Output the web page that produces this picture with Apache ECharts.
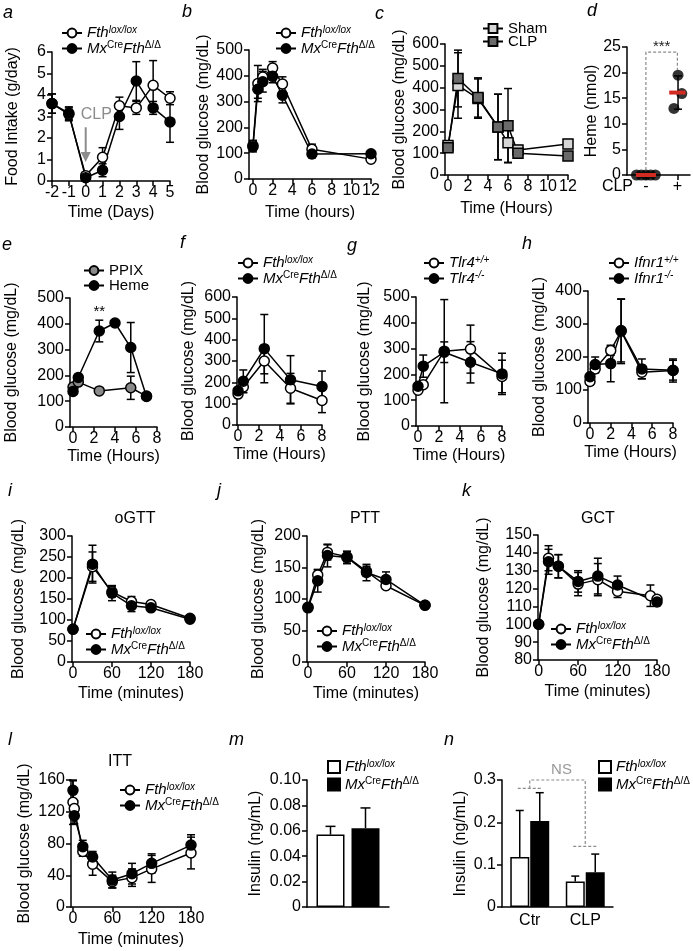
<!DOCTYPE html>
<html>
<head>
<meta charset="utf-8">
<script src="https://cdn.jsdelivr.net/npm/echarts@6.0.0/dist/echarts.min.js"></script>
<style>html,body{margin:0;padding:0;background:#fff;}#chart{width:693px;height:951px;}</style>
</head>
<body>
<div id="chart"></div>
<script>
const FONT = '"Liberation Sans", Arial, Helvetica, sans-serif';
const FS = 16;

// ---------- a : food intake ----------
const aDays = [-2,-1,0,1,2,3,4,5];
const aLox = [3.6,3.1,0.25,1.1,3.5,3.4,4.45,3.85];
const aLoxErr = [0.45,0.3,0.15,0.45,0.4,0.3,1.15,0.3];
const aMx = [3.6,3.15,0.15,0.5,3.0,4.65,3.4,2.75];
const aMxErr = [0.45,0.3,0.15,0.3,0.6,0.9,0.3,0.95];
const aXTicks = [-2,-1,0,1,2,3,4,5];
const aArrow = [[0,2.5],[0,0.88]];
const aArrowText = [0.63,3.07];

// ---------- b ----------
const bHours = [0,0.5,1,2,3,6,12];
const bLox = [130,370,395,430,368,115,77];
const bLoxErr = [20,70,30,25,28,20,8];
const bMx = [125,348,377,398,325,97,98];
const bMxErr = [20,35,40,25,30,15,8];
const bXTicks = [0,2,4,6,8,10,12];

// ---------- c ----------
const cHours = [0,1,3,5,6,7,12];
const cSham = [135,410,350,220,148,115,142];
const cShamErr = [20,150,90,150,90,20,20];
const cClp = [125,442,355,220,226,100,87];
const cClpErr = [15,130,90,150,170,15,15];
const cXTicks = [0,2,4,6,8,10,12];

// ---------- d ----------
const dGroupPos = [0,1];
const dGroupLabels = ['-','+'];
const dAxisLabel = 'CLP';
const dMinusX = [-0.3,-0.15,0,0.15,0.3];
const dMinusY = [0,0,0,0,0];
const dPlusX = [1.02,1.14,0.89];
const dPlusY = [19.5,15.9,13.0];
const dMean = [0,16.1];
const dMeanHalf = [0.32,0.26];
const dSdX = [1.02], dSdY = [16.1], dSdErr = [3.25];
const dBracket = [[0,1],[0,24],[1,24],[1,20.5]];
const dStars = [0.5,24];

// ---------- e ----------
const eHemeT = [0,0.5,2.5,4,5.5,7];
const eHeme = [138,192,372,403,308,118];
const eHemeErr = [12,12,42,5,97,10];
const ePpixT = [0,0.5,2.5,5.5,7];
const ePpix = [155,174,140,152,120];
const ePpixErr = [10,10,8,45,10];
const eStars = [2.5,418];
const hourTicks = [0,2,4,6,8];

// ---------- f ----------
const fT = [0,0.5,2.5,5,8];
const fLox = [145,178,300,172,115];
const fLoxErr = [15,26,60,70,57];
const fMx = [160,205,358,212,180];
const fMxErr = [15,53,160,113,73];

// ---------- g ----------
const gT = [0,0.5,2.5,5,8];
const gWt = [139,160,290,298,192];
const gWtErr = [10,10,200,93,63];
const gKo = [154,232,286,247,202];
const gKoErr = [10,43,40,80,80];

// ---------- h ----------
const hT = [0,0.5,2,3,5,8];
const hWt = [126,164,220,278,154,159];
const hWtErr = [10,12,15,98,20,35];
const hKo = [140,177,180,280,164,160];
const hKoErr = [10,23,55,95,30,30];

// ---------- i oGTT ----------
const minTicks = [0,60,120,180];
const iT = [0,30,60,90,120,180];
const iLox = [78,227,167,144,137,104];
const iLoxErr = [3,35,12,12,5,4];
const iMx = [78,233,164,134,129,102];
const iMxErr = [3,45,18,14,5,4];

// ---------- j PTT ----------
const jT = [0,15,30,60,90,120,180];
const jLox = [87,138,174,167,144,121,90];
const jLoxErr = [4,8,12,8,8,5,3];
const jMx = [86,129,169,166,142,131,90];
const jMxErr = [4,18,18,10,13,12,3];

// ---------- k GCT ----------
const kLoxT = [0,15,30,60,90,120,170,180];
const kLox = [100,137,132.5,122.5,125,118.5,116,114];
const kLoxErr = [0,7,6.5,6.5,9,3.5,6,2];
const kMxT = [0,15,30,60,90,120,180];
const kMx = [100,135,132.5,124,127,122,112.5];
const kMxErr = [0,7,6.5,6,10,5,2];

// ---------- l ITT ----------
const lT = [0,2,15,30,60,90,120,180];
const lLox = [132,124,70,54,32,37,48,68];
const lLoxErr = [28,10,6,14,8,11,17,20];
const lMx = [147,115,76,63,34,42,55,78];
const lMxErr = [12,10,8,7,10,13,12,13];

// ---------- m insulin ----------
const mCats = [''];
const mLox = [0.057];
const mLoxErr = [0.0065];
const mMx = [0.062];
const mMxErr = [0.016];

// ---------- n insulin CLP ----------
const nCats = ['Ctr','CLP'];
const nLox = [0.118,0.06];
const nLoxErr = [0.11,0.013];
const nMx = [0.203,0.082];
const nMxErr = [0.067,0.043];
const nBracket = [[0,0.28],[0,0.3],[1,0.3],[1,0.143]];

// ---------- text ----------
const LOX = '{i|Fth}{si|lox/lox}';
const MX = '{i|Mx}{s|Cre}{i|Fth}{s|Δ/Δ}';
const LEG = {
  a_lox: LOX, a_mx: MX, b_lox: LOX, b_mx: MX,
  c_sham: '{n|Sham}', c_clp: '{n|CLP}',
  e_ppix: '{n|PPIX}', e_heme: '{n|Heme}',
  f_lox: LOX, f_mx: MX,
  g_wt: '{i|Tlr4}{si|+/+}', g_ko: '{i|Tlr4}{si|-/-}',
  h_wt: '{i|Ifnr1}{si|+/+}', h_ko: '{i|Ifnr1}{si|-/-}',
  i_lox: LOX, i_mx: MX, j_lox: LOX, j_mx: MX, k_lox: LOX, k_mx: MX,
  l_lox: LOX, l_mx: MX, m_lox: LOX, m_mx: MX, n_lox: LOX, n_mx: MX
};
const panelLetters = [['a',3,13],['b',182,12],['c',375,14],['d',587,11],
  ['e',2,245],['f',180,243],['g',347,246],['h',522,244],
  ['i',8,491],['j',217,491],['k',462,491],['l',8,740],['m',229,740],['n',444,740]];
const panelTitles = [['oGTT',135,519],['PTT',365,519],['GCT',598,519],['ITT',120,762]];

// ================= builders =================
const RICH = {
  i: {fontStyle:'italic', fontSize:15, lineHeight:16, fontFamily:FONT, color:'#000'},
  n: {fontSize:15, lineHeight:16, fontFamily:FONT, color:'#000'},
  s: {fontSize:10, lineHeight:10, verticalAlign:'top', fontFamily:FONT, color:'#000'},
  si: {fontSize:10, lineHeight:10, verticalAlign:'top', fontStyle:'italic', fontFamily:FONT, color:'#000'}
};
const grids=[], xAxes=[], yAxes=[], series=[], legends=[], graphics=[];

function axisCommon(){
  return {
    axisLine:{show:true, onZero:false, lineStyle:{color:'#000', width:1.5}},
    axisTick:{show:true, inside:false, length:5, lineStyle:{color:'#000', width:1.5}},
    axisLabel:{show:true, color:'#000', fontSize:FS, fontFamily:FONT, hideOverlap:false, showMinLabel:true, showMaxLabel:true},
    splitLine:{show:false},
    nameLocation:'middle',
    nameTextStyle:{color:'#000', fontSize:FS, fontFamily:FONT}
  };
}
function addPanel(p){
  const gi = grids.length;
  grids.push({left:p.box[0], top:p.box[1], width:p.box[2], height:p.box[3], containLabel:false});
  const xa = axisCommon();
  xa.gridIndex = gi;
  if (p.xCats){
    xa.type='category'; xa.data=p.xCats; xa.boundaryGap=true;
    xa.axisTick.show=false; xa.axisLabel.margin=6; xa.axisLabel.interval=0;
  } else {
    xa.type='value'; xa.min=p.xMin; xa.max=p.xMax;
    xa.axisTick.customValues=p.xTicks; xa.axisLabel.customValues=p.xTicks;
    xa.axisLabel.margin=4;
    if (p.xFmt) xa.axisLabel.formatter=p.xFmt;
  }
  if (p.xName){ xa.name=p.xName; xa.nameGap=p.xGap; }
  const ya = axisCommon();
  ya.gridIndex=gi; ya.type='value'; ya.min=p.yMin; ya.max=p.yMax; ya.interval=p.yStep;
  ya.axisLabel.margin=6;
  if (p.yFmt) ya.axisLabel.formatter=p.yFmt;
  ya.name=p.yName; ya.nameGap=p.yGap; ya.nameRotate=90;
  xAxes.push(xa); yAxes.push(ya);
  return gi;
}
function pairs(xs, ys){ return xs.map((x,i)=>[x, ys[i]]); }
function triples(xs, ys, es){ return xs.map((x,i)=>[x, ys[i], es[i]]); }
function txt(t, x, y, font, fill, align, valign){
  return {type:'text', x:x, y:y, style:{text:t, font:font, fill:fill||'#000',
    align:align||'center', verticalAlign:valign||'middle', textAlign:align||'center', textVerticalAlign:valign||'middle'}};
}
function errRender(cap, opt){
  opt = opt || {};
  return function(params, api){
    const x=api.value(0), y=api.value(1), e=api.value(2);
    if (!e) return null;
    const c=api.coord([x,y]), up=api.coord([x,y+e]), dn=api.coord([x,y-e]);
    const X=c[0]+(opt.off||0);
    const st={stroke:'#000', lineWidth:1.5};
    const ch=[
      {type:'line', shape:{x1:X, y1:opt.upOnly?c[1]:dn[1], x2:X, y2:up[1]}, style:st},
      {type:'line', shape:{x1:X-cap, y1:up[1], x2:X+cap, y2:up[1]}, style:st}
    ];
    if (!opt.upOnly) ch.push({type:'line', shape:{x1:X-cap, y1:dn[1], x2:X+cap, y2:dn[1]}, style:st});
    return {type:'group', children:ch};
  };
}
const OPEN={color:'#fff', borderColor:'#000', borderWidth:1.5};
const FILLED={color:'#000', borderColor:'#000', borderWidth:1.5};
function addLine(gi, name, xs, ys, es, itemStyle, sym){
  series.push({type:'custom', name:name+'_err', xAxisIndex:gi, yAxisIndex:gi, data:triples(xs,ys,es),
    renderItem:errRender(4), z:2, silent:true, animation:false});
  series.push({type:'line', name:name, xAxisIndex:gi, yAxisIndex:gi, data:pairs(xs,ys),
    symbol:sym||'circle', symbolSize:10, itemStyle:itemStyle, lineStyle:{color:'#000', width:1.5},
    z:3, silent:true, animation:false, emphasis:{disabled:true}});
}
function addLegend(names, left, top, opt){
  opt = opt || {};
  const l = {data:names, left:left, top:top, orient:'vertical', padding:0,
    itemGap:opt.gap!=null?opt.gap:0, itemWidth:opt.iw||20, itemHeight:opt.ih||11,
    selectedMode:false, formatter:(n)=>LEG[n],
    textStyle:{color:'#000', fontFamily:FONT, fontSize:15, rich:RICH}};
  if (opt.icon) l.icon = opt.icon;
  legends.push(l);
}
function addAnnot(gi, render){
  series.push({type:'custom', xAxisIndex:gi, yAxisIndex:gi, data:[[0,0]], renderItem:render, z:6, silent:true, animation:false});
}

// ================= panels =================
const TB = 'Blood glucose (mg/dL)';
// a
const gA = addPanel({box:[52,52,118,129], xMin:-2, xMax:5, xTicks:aXTicks, yMin:0, yMax:6, yStep:1,
  xName:'Time (Days)', xGap:24, yName:'Food Intake (g/day)', yGap:31});
addLine(gA,'a_lox',aDays,aLox,aLoxErr,OPEN);
addLine(gA,'a_mx',aDays,aMx,aMxErr,FILLED);
addLegend(['a_lox','a_mx'],61,25);
addAnnot(gA,(p,api)=>{
  const s=api.coord(aArrow[0]), t=api.coord(aArrow[1]), lab=api.coord(aArrowText);
  return {type:'group', children:[
    {type:'line', shape:{x1:s[0],y1:s[1],x2:t[0],y2:t[1]-8}, style:{stroke:'#8c8c8c', lineWidth:2}},
    {type:'polygon', shape:{points:[[t[0]-5,t[1]-10],[t[0]+5,t[1]-10],[t[0],t[1]]]}, style:{fill:'#8c8c8c'}},
    txt('CLP', lab[0], lab[1], '16px '+FONT, '#8c8c8c')
  ]};
});
// b
const gB = addPanel({box:[249,50,122,129], xMin:-0.4, xMax:12, xTicks:bXTicks, yMin:0, yMax:500, yStep:100,
  xName:'Time (hours)', xGap:26, yName:TB, yGap:37});
addLine(gB,'b_lox',bHours,bLox,bLoxErr,OPEN);
addLine(gB,'b_mx',bHours,bMx,bMxErr,FILLED);
addLegend(['b_lox','b_mx'],275,25);
// c
const gC = addPanel({box:[445,44,123,131], xMin:-0.3, xMax:12, xTicks:cXTicks, yMin:0, yMax:600, yStep:100,
  xName:'Time (Hours)', xGap:26, yName:TB, yGap:37});
addLine(gC,'c_sham',cHours,cSham,cShamErr,{color:'#d6d6d6', borderColor:'#000', borderWidth:1.5},'rect');
addLine(gC,'c_clp',cHours,cClp,cClpErr,{color:'#6a6a6a', borderColor:'#000', borderWidth:1.5},'rect');
addLegend(['c_sham','c_clp'],482,21,{gap:-2});
// d
const gD = addPanel({box:[627,47,63,128], xMin:-0.6, xMax:1.4, xTicks:dGroupPos,
  xFmt:(v)=>dGroupLabels[dGroupPos.indexOf(v)],
  yMin:0, yMax:25, yStep:5, yName:'Heme (nmol)', yGap:25});
series.push({type:'scatter', xAxisIndex:gD, yAxisIndex:gD, data:pairs(dMinusX,dMinusY).concat(pairs(dPlusX,dPlusY)),
  symbol:'circle', symbolSize:11, itemStyle:{color:'#000'}, z:4, silent:true, animation:false, clip:false});
series.push({type:'custom', xAxisIndex:gD, yAxisIndex:gD, data:triples(dSdX,dSdY,dSdErr), renderItem:errRender(4), z:3, silent:true, animation:false});
series.push({type:'custom', xAxisIndex:gD, yAxisIndex:gD, data:triples(dGroupPos,dMean,dMeanHalf), z:5, silent:true, animation:false,
  renderItem:(p,api)=>{
    const x=api.value(0), y=api.value(1), h=api.value(2);
    const a=api.coord([x-h,y]), b=api.coord([x+h,y]);
    return {type:'line', shape:{x1:a[0],y1:a[1],x2:b[0],y2:b[1]}, style:{stroke:'#d22b22', lineWidth:4}};
  }});
addAnnot(gD,(p,api)=>{
  const pts=dBracket.map(q=>api.coord(q)); const st=api.coord(dStars);
  const origin=api.coord([-0.6,0]);
  return {type:'group', children:[
    {type:'polyline', shape:{points:pts}, style:{stroke:'#8c8c8c', lineWidth:1.2, lineDash:[3,2], fill:'none'}},
    txt('***', st[0], st[1]+2, '15px '+FONT, '#222', 'center', 'bottom'),
    txt(dAxisLabel, origin[0]+6, origin[1]+4, FS+'px '+FONT, '#000', 'right', 'top')
  ]};
});
// e
const gE = addPanel({box:[70,298,87,129], xMin:-0.29, xMax:8, xTicks:hourTicks, yMin:0, yMax:500, yStep:100,
  xName:'Time (Hours)', xGap:22, yName:TB, yGap:50});
addLine(gE,'e_ppix',ePpixT,ePpix,ePpixErr,{color:'#8a8a8a', borderColor:'#000', borderWidth:1.5});
addLine(gE,'e_heme',eHemeT,eHeme,eHemeErr,FILLED);
addLegend(['e_ppix','e_heme'],83,263);
addAnnot(gE,(p,api)=>{ const s=api.coord(eStars); return txt('**', s[0], s[1], '15px '+FONT, '#000', 'center', 'bottom'); });
// f
const gF = addPanel({box:[237,297,85,128], xMin:-0.1, xMax:8, xTicks:hourTicks, yMin:0, yMax:600, yStep:100,
  xName:'Time (Hours)', xGap:22, yName:TB, yGap:40});
addLine(gF,'f_lox',fT,fLox,fLoxErr,OPEN);
addLine(gF,'f_mx',fT,fMx,fMxErr,FILLED);
addLegend(['f_lox','f_mx'],237,255);
// g
const gG = addPanel({box:[416,297,86,129], xMin:-0.19, xMax:8, xTicks:hourTicks, yMin:0, yMax:500, yStep:100,
  xName:'Time (Hours)', xGap:22, yName:TB, yGap:43});
addLine(gG,'g_wt',gT,gWt,gWtErr,OPEN);
addLine(gG,'g_ko',gT,gKo,gKoErr,FILLED);
addLegend(['g_wt','g_ko'],423,255);
// h
const gH = addPanel({box:[588,291,85,132], xMin:-0.19, xMax:8, xTicks:hourTicks, yMin:0, yMax:400, yStep:100,
  xName:'Time (Hours)', xGap:22, yName:TB, yGap:40});
addLine(gH,'h_wt',hT,hWt,hWtErr,OPEN);
addLine(gH,'h_ko',hT,hKo,hKoErr,FILLED);
addLegend(['h_wt','h_ko'],608,255);
// i
const gI = addPanel({box:[72,536,118,126], xMin:-1.5, xMax:180, xTicks:minTicks, yMin:0, yMax:300, yStep:50,
  xName:'Time (minutes)', xGap:24, yName:TB, yGap:45});
addLine(gI,'i_lox',iT,iLox,iLoxErr,OPEN);
addLine(gI,'i_mx',iT,iMx,iMxErr,FILLED);
addLegend(['i_lox','i_mx'],85,626);
// j
const gJ = addPanel({box:[307,536,118,126], xMin:-1.5, xMax:180, xTicks:minTicks, yMin:0, yMax:200, yStep:50,
  xName:'Time (minutes)', xGap:24, yName:TB, yGap:40});
addLine(gJ,'j_lox',jT,jLox,jLoxErr,OPEN);
addLine(gJ,'j_mx',jT,jMx,jMxErr,FILLED);
addLegend(['j_lox','j_mx'],316,623);
// k
const gK = addPanel({box:[538,535,119,125], xMin:-1, xMax:180, xTicks:minTicks, yMin:80, yMax:150, yStep:10,
  xName:'Time (minutes)', xGap:24, yName:TB, yGap:46});
addLine(gK,'k_lox',kLoxT,kLox,kLoxErr,OPEN);
addLine(gK,'k_mx',kMxT,kMx,kMxErr,FILLED);
addLegend(['k_lox','k_mx'],550,621);
// l
const gL = addPanel({box:[71,780,120,127], xMin:-3, xMax:180, xTicks:minTicks, yMin:0, yMax:160, yStep:40,
  xName:'Time (minutes)', xGap:25, yName:TB, yGap:38});
addLine(gL,'l_lox',lT,lLox,lLoxErr,OPEN);
addLine(gL,'l_mx',lT,lMx,lMxErr,FILLED);
addLegend(['l_lox','l_mx'],119,782);
// m
const gM = addPanel({box:[307,780,82,127], xCats:mCats, yMin:0, yMax:0.1, yStep:0.02,
  yFmt:(v)=>v===0?'0':v.toFixed(2), yName:'Insulin (ng/mL)', yGap:43});
series.push({type:'bar', name:'m_lox', xAxisIndex:gM, yAxisIndex:gM, data:mLox, barWidth:28, barGap:'25%',
  itemStyle:{color:'#fff', borderColor:'#000', borderWidth:1.5}, z:3, silent:true, animation:false});
series.push({type:'bar', name:'m_mx', xAxisIndex:gM, yAxisIndex:gM, data:mMx, barWidth:28, barGap:'25%',
  itemStyle:{color:'#000', borderColor:'#000', borderWidth:1.5}, z:3, silent:true, animation:false});
series.push({type:'custom', xAxisIndex:gM, yAxisIndex:gM, data:triples([0],mLox,mLoxErr), renderItem:errRender(5,{off:-17.5, upOnly:true}), z:4, silent:true, animation:false});
series.push({type:'custom', xAxisIndex:gM, yAxisIndex:gM, data:triples([0],mMx,mMxErr), renderItem:errRender(5,{off:17.5, upOnly:true}), z:4, silent:true, animation:false});
addLegend(['m_lox','m_mx'],327,759,{icon:'rect', iw:12, ih:12, gap:2});
// n
const gN = addPanel({box:[502,780,111,127], xCats:nCats, yMin:0, yMax:0.3, yStep:0.1,
  yFmt:(v)=>v===0?'0':v.toFixed(1), yName:'Insulin (ng/mL)', yGap:33});
series.push({type:'bar', name:'n_lox', xAxisIndex:gN, yAxisIndex:gN, data:nLox, barWidth:19, barGap:'5%',
  itemStyle:{color:'#fff', borderColor:'#000', borderWidth:1.5}, z:3, silent:true, animation:false});
series.push({type:'bar', name:'n_mx', xAxisIndex:gN, yAxisIndex:gN, data:nMx, barWidth:19, barGap:'5%',
  itemStyle:{color:'#000', borderColor:'#000', borderWidth:1.5}, z:3, silent:true, animation:false});
series.push({type:'custom', xAxisIndex:gN, yAxisIndex:gN, data:triples([0,1],nLox,nLoxErr), renderItem:errRender(4,{off:-10, upOnly:true}), z:4, silent:true, animation:false});
series.push({type:'custom', xAxisIndex:gN, yAxisIndex:gN, data:triples([0,1],nMx,nMxErr), renderItem:errRender(4,{off:10, upOnly:true}), z:4, silent:true, animation:false});
addLegend(['n_lox','n_mx'],598,759,{icon:'rect', iw:12, ih:12, gap:2});
addAnnot(gN,(p,api)=>{
  const pts=nBracket.map(q=>api.coord(q));
  const ds={stroke:'#8c8c8c', lineWidth:1.2, lineDash:[3,2], fill:'none'};
  const a=pts[0], b=pts[3];
  return {type:'group', children:[
    {type:'polyline', shape:{points:pts}, style:ds},
    {type:'line', shape:{x1:a[0]-12,y1:a[1],x2:a[0]+12,y2:a[1]}, style:ds},
    {type:'line', shape:{x1:b[0]-12,y1:b[1],x2:b[0]+12,y2:b[1]}, style:ds},
    txt('NS', (pts[1][0]+pts[2][0])/2+4, pts[1][1]-3, '15px '+FONT, '#999', 'center', 'bottom')
  ]};
});

// letters and titles
panelLetters.forEach(l=>graphics.push(txt(l[0], l[1], l[2], 'italic 18px '+FONT, '#000', 'left', 'middle')));
panelTitles.forEach(t=>graphics.push(txt(t[0], t[1], t[2], '16px '+FONT, '#000', 'center', 'middle')));

const chart = echarts.init(document.getElementById('chart'), null, {renderer:'canvas'});
chart.setOption({
  animation:false,
  backgroundColor:'#fff',
  textStyle:{fontFamily:FONT},
  grid:grids, xAxis:xAxes, yAxis:yAxes, legend:legends, series:series, graphic:graphics
});
</script>
</body>
</html>
